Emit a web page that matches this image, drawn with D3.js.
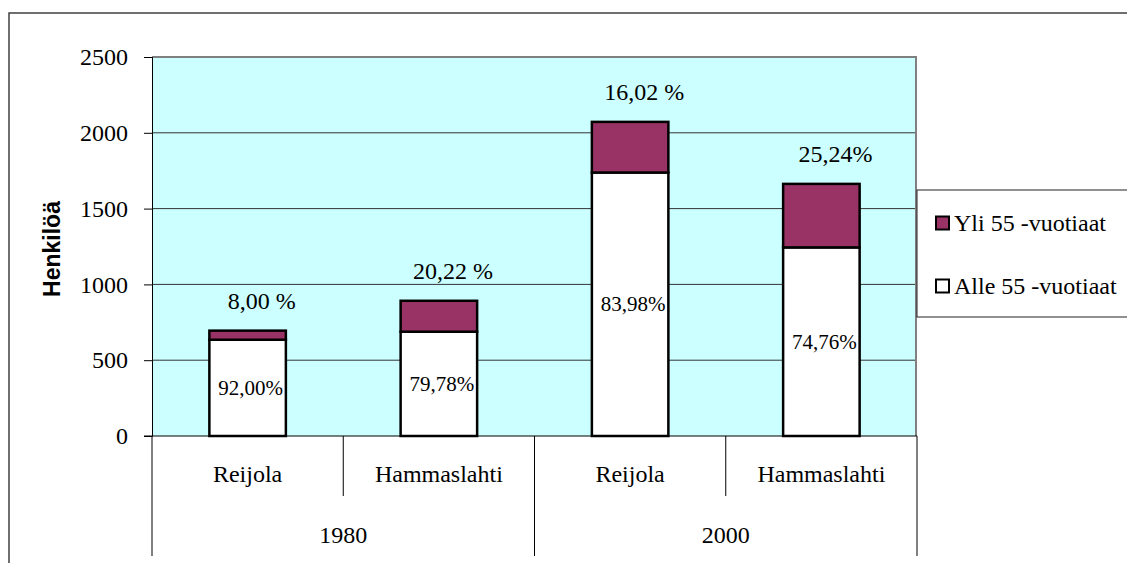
<!DOCTYPE html>
<html>
<head>
<meta charset="utf-8">
<script src="https://cdn.jsdelivr.net/npm/d3@7"></script>
<style>
  body { margin: 0; background: #fff; }
  text { font-family: "Liberation Serif", "Times New Roman", serif; fill: #000; }
</style>
</head>
<body>
<div id="chartContainer"></div>
<script>
// data
const years = ['1980', '2000'];
const places = ['Reijola', 'Hammaslahti'];
const under55 = [635, 688, 1738, 1244];
const over55 = [60, 204, 334, 419];
const topLabels = ['8,00 %', '20,22 %', '16,02 %', '25,24%'];
const innerLabels = ['92,00%', '79,78%', '83,98%', '74,76%'];
const seriesNames = ['Yli 55 -vuotiaat', 'Alle 55 -vuotiaat'];
const yTicks = [0, 500, 1000, 1500, 2000, 2500];

const W = 1127, H = 563;
const plot = { left: 152, right: 917, top: 57, bottom: 436 };
const serif = '"Liberation Serif", "Times New Roman", serif';

const rows = [];
years.forEach(y => places.forEach(p => rows.push({ year: y, place: p })));
rows.forEach((d, i) => {
    d.key = d.year + '-' + d.place;
    d.under = under55[i];
    d.over = over55[i];
    d.top = topLabels[i];
    d.inner = innerLabels[i];
});

const svg = d3.select('#chartContainer')
    .append('svg')
    .attr('width', W)
    .attr('height', H)
    .style('font-family', serif);

// outer chart border
svg.append('rect')
    .attr('x', 9).attr('y', 13)
    .attr('width', W + 20).attr('height', H + 20)
    .attr('fill', 'none')
    .attr('stroke', '#404040')
    .attr('stroke-width', 1.5);

const y = d3.scaleLinear()
    .domain([0, 2500])
    .range([plot.bottom, plot.top]);

const xCell = d3.scaleBand()
    .domain(rows.map(d => d.key))
    .range([plot.left, plot.right]);

const x = d3.scaleBand()
    .domain(rows.map(d => d.key))
    .range([plot.left, plot.right])
    .paddingInner(0.6)
    .paddingOuter(0.3);

const xYear = d3.scaleBand()
    .domain(years)
    .range([plot.left, plot.right]);

// plot background
svg.append('rect')
    .attr('x', plot.left).attr('y', plot.top)
    .attr('width', plot.right - plot.left)
    .attr('height', plot.bottom - plot.top)
    .attr('fill', '#ccffff');

// gridlines
svg.append('g')
    .selectAll('line')
    .data(yTicks.filter(t => t > 0 && t < 2500))
    .enter()
    .append('line')
    .attr('x1', plot.left).attr('x2', plot.right)
    .attr('y1', d => y(d)).attr('y2', d => y(d))
    .attr('stroke', '#333')
    .attr('stroke-width', 1);

// plot border top/right (gray)
svg.append('path')
    .attr('d', `M${plot.left},${plot.top}H${plot.right - 1}V${plot.bottom}`)
    .attr('fill', 'none')
    .attr('stroke', '#808080')
    .attr('stroke-width', 2);

// y axis
const yAxis = svg.append('g')
    .attr('transform', `translate(${plot.left},0)`)
    .call(d3.axisLeft(y).tickValues(yTicks).tickSize(8).tickPadding(16).tickFormat(d3.format('d')));
yAxis.attr('font-family', null).attr('font-size', null);
yAxis.select('.domain').attr('stroke', '#000');
yAxis.selectAll('.tick line').attr('stroke', '#000');
yAxis.selectAll('text')
    .style('font-family', serif)
    .style('font-size', '24px')
    .attr('fill', '#000');

svg.append('text')
    .attr('transform', `translate(52,249) rotate(-90)`)
    .attr('text-anchor', 'middle')
    .attr('dominant-baseline', 'central')
    .style('font-family', '"Liberation Sans", Arial, sans-serif')
    .style('font-weight', 'bold')
    .style('font-size', '23px')
    .text('Henkilöä');

// bars
const barG = svg.append('g');
barG.selectAll('rect.under')
    .data(rows)
    .enter()
    .append('rect')
    .attr('class', 'under')
    .attr('x', d => x(d.key))
    .attr('y', d => y(d.under))
    .attr('width', x.bandwidth())
    .attr('height', d => y(0) - y(d.under))
    .attr('fill', '#ffffff')
    .attr('stroke', '#000')
    .attr('stroke-width', 2.5);

barG.selectAll('rect.over')
    .data(rows)
    .enter()
    .append('rect')
    .attr('class', 'over')
    .attr('x', d => x(d.key))
    .attr('y', d => y(d.under + d.over))
    .attr('width', x.bandwidth())
    .attr('height', d => y(d.under) - y(d.under + d.over))
    .attr('fill', '#993366')
    .attr('stroke', '#000')
    .attr('stroke-width', 2.5);

// value labels
svg.append('g')
    .selectAll('text')
    .data(rows)
    .enter()
    .append('text')
    .attr('x', d => x(d.key) + x.bandwidth() / 2 + 14)
    .attr('y', d => y(d.under + d.over) - 22)
    .attr('text-anchor', 'middle')
    .style('font-family', serif)
    .style('font-size', '24px')
    .text(d => d.top);

svg.append('g')
    .selectAll('text')
    .data(rows)
    .enter()
    .append('text')
    .attr('x', d => x(d.key) + x.bandwidth() / 2 + 3)
    .attr('y', d => (y(d.under) + y(0)) / 2)
    .attr('text-anchor', 'middle')
    .attr('dominant-baseline', 'central')
    .style('font-family', serif)
    .style('font-size', '21px')
    .text(d => d.inner);

// x axis (two level)
const xg = svg.append('g');
xg.append('line')
    .attr('x1', plot.left - 8).attr('x2', plot.right)
    .attr('y1', plot.bottom).attr('y2', plot.bottom)
    .attr('stroke', '#000');

const yearBounds = years.map(yr => xYear(yr)).concat([plot.right]);
xg.selectAll('line.yeardiv')
    .data(yearBounds)
    .enter()
    .append('line')
    .attr('class', 'yeardiv')
    .attr('x1', d => d).attr('x2', d => d)
    .attr('y1', plot.bottom).attr('y2', 556)
    .attr('stroke', '#000');

xg.selectAll('line.placediv')
    .data(rows.filter(d => d.place !== places[0]))
    .enter()
    .append('line')
    .attr('class', 'placediv')
    .attr('x1', d => xCell(d.key)).attr('x2', d => xCell(d.key))
    .attr('y1', plot.bottom).attr('y2', 496)
    .attr('stroke', '#000');

xg.selectAll('text.place')
    .data(rows)
    .enter()
    .append('text')
    .attr('class', 'place')
    .attr('x', d => xCell(d.key) + xCell.bandwidth() / 2)
    .attr('y', 482)
    .attr('text-anchor', 'middle')
    .style('font-family', serif)
    .style('font-size', '24px')
    .text(d => d.place);

xg.selectAll('text.year')
    .data(years)
    .enter()
    .append('text')
    .attr('class', 'year')
    .attr('x', d => xYear(d) + xYear.bandwidth() / 2)
    .attr('y', 543)
    .attr('text-anchor', 'middle')
    .style('font-family', serif)
    .style('font-size', '24px')
    .text(d => d);

// legend
const lg = svg.append('g');
lg.append('rect')
    .attr('x', 917).attr('y', 190)
    .attr('width', 240).attr('height', 127)
    .attr('fill', '#fff')
    .attr('stroke', '#222')
    .attr('stroke-width', 1);

const legendItems = seriesNames.map((n, i) => ({ name: n, fill: i === 0 ? '#993366' : '#ffffff' }));
const ly = d3.scalePoint().domain(seriesNames).range([223, 286]);
lg.selectAll('rect.sw')
    .data(legendItems)
    .enter()
    .append('rect')
    .attr('class', 'sw')
    .attr('x', 936)
    .attr('y', d => ly(d.name) - 6.5)
    .attr('width', 13).attr('height', 13)
    .attr('fill', d => d.fill)
    .attr('stroke', '#000')
    .attr('stroke-width', 2);

lg.selectAll('text.lbl')
    .data(legendItems)
    .enter()
    .append('text')
    .attr('class', 'lbl')
    .attr('x', 954)
    .attr('y', d => ly(d.name) + 8)
    .style('font-family', serif)
    .style('font-size', '24px')
    .text(d => d.name);
</script>
</body>
</html>
